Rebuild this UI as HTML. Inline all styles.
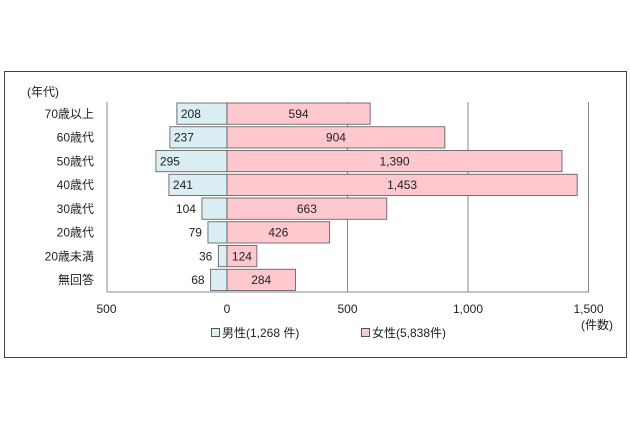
<!DOCTYPE html>
<html><head><meta charset="utf-8"><style>
body{margin:0;background:#fff;width:630px;height:430px;overflow:hidden}
svg text{font-family:"Liberation Sans","Noto Sans CJK JP",sans-serif;font-size:12px;fill:#222}
</style></head><body>
<svg id="c" width="630" height="430">
<rect x="4.5" y="71.5" width="622" height="286" fill="#fff" stroke="#444"/>
<text x="27" y="96">(年代)</text>
<text x="597" y="329" text-anchor="middle">(件数)</text>
<g id="grid"></g><g id="bars"></g><g id="labels"></g>
<line x1="107" y1="102" x2="107" y2="292" stroke="#888"/>
<line x1="107" y1="292" x2="589" y2="292" stroke="#888"/>
<g>
<rect x="211.5" y="328.5" width="8" height="8" fill="#dbeef4" stroke="#555"/>
<text x="222" y="337">男性(1,268 件)</text>
<rect x="361.5" y="328.5" width="8" height="8" fill="#ffc7ce" stroke="#555"/>
<text x="372" y="337">女性(5,838件)</text>
</g>
</svg>
<script>
const categories=["70歳以上","60歳代","50歳代","40歳代","30歳代","20歳代","20歳未満","無回答"];
const male=[208,237,295,241,104,79,36,68];
const female=[594,904,1390,1453,663,426,124,284];
const ticks=[-500,0,500,1000,1500];
const tickLabels=["500","0","500","1,000","1,500"];
const NS="http://www.w3.org/2000/svg";
const x0=227,scale=(588.5-227)/1500,plotTop=102,band=23.75;
const X=v=>x0+v*scale;
const fmt=v=>v.toLocaleString("en-US");
function mk(t,a,p){const e=document.createElementNS(NS,t);for(const k in a)e.setAttribute(k,a[k]);document.getElementById(p).appendChild(e);return e;}
ticks.forEach((t,i)=>{
  if(t>0){const g=mk("line",{x1:X(t),x2:X(t),y1:plotTop,y2:292,stroke:"#888"},"grid");
  
  }
  const l=mk("text",{x:X(t),y:313,"text-anchor":"middle"},"labels");l.textContent=tickLabels[i];
  
  
});
categories.forEach((c,i)=>{
  const y=plotTop+i*band+1,h=band-2.5,cy=plotTop+i*band+band/2+4;
  const cl=mk("text",{x:94,y:cy,"text-anchor":"end"},"labels");cl.textContent=c;
  
  
  const m=male[i],w=m*scale;
  const mb=mk("rect",{x:X(-m),y:y,width:w,height:h,fill:"#dbeef4",stroke:"#555","stroke-width":0.8},"bars");
  
  
  const s=fmt(m),tw=s.length*7;
  const ml=mk("text",w>tw+6?{x:X(-m)+4,y:cy}:{x:X(-m)-6,y:cy,"text-anchor":"end"},"labels");ml.textContent=s;
  
  
  const f=female[i];
  const fb=mk("rect",{x:x0,y:y,width:f*scale,height:h,fill:"#ffc7ce",stroke:"#555","stroke-width":0.8},"bars");
  
  
  const fl=mk("text",{x:X(f/2),y:cy,"text-anchor":"middle"},"labels");fl.textContent=fmt(f);
  
  
});
</script>
</body></html>
